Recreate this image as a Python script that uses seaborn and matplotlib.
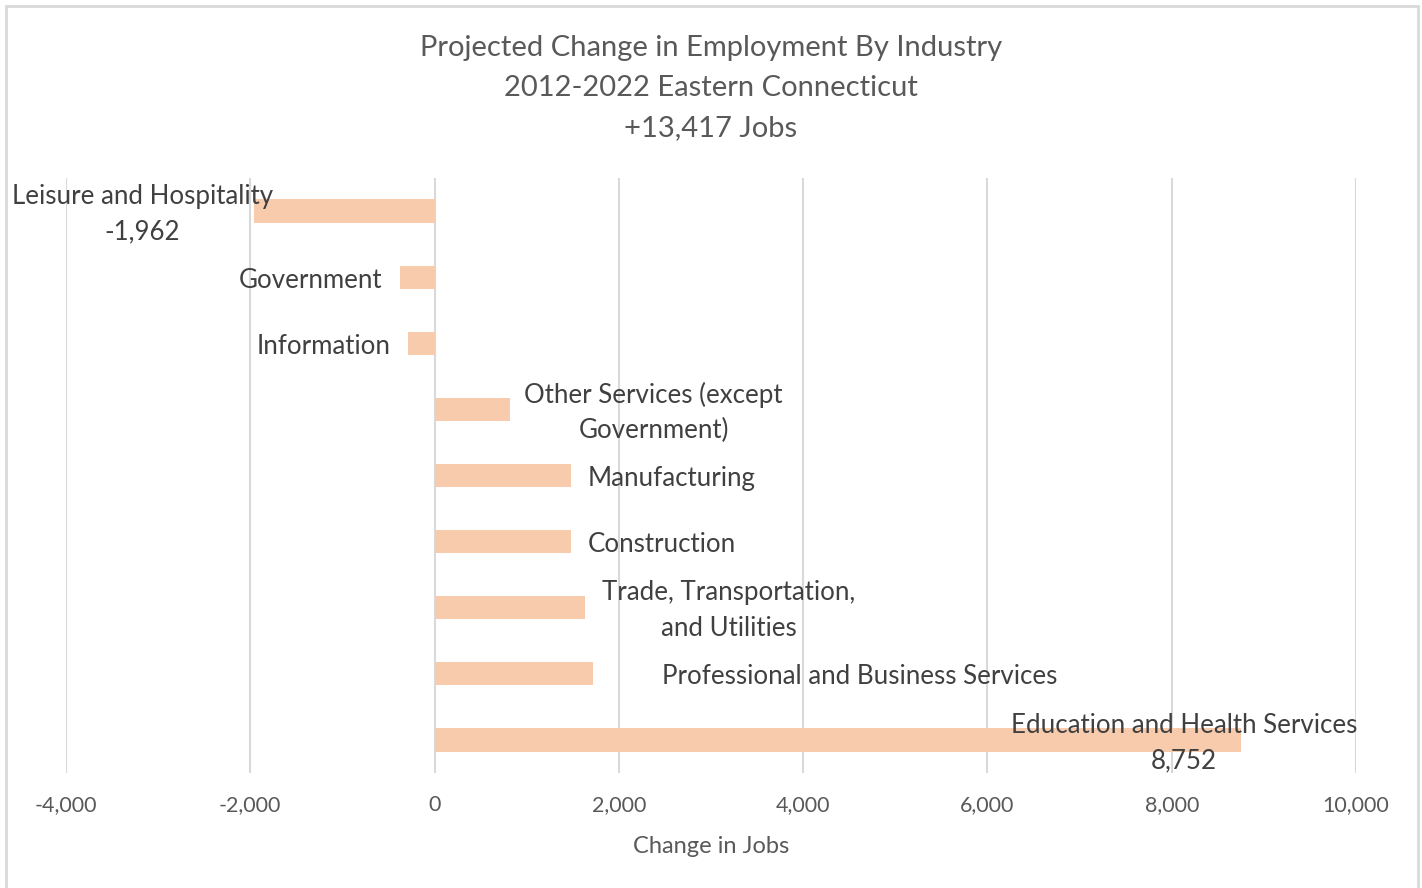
import matplotlib
matplotlib.use("Agg")
import matplotlib.pyplot as plt
import matplotlib.patches as mpatches
from matplotlib.ticker import FuncFormatter
import seaborn as sns
import pandas as pd

# ---- data ----
industries = [
    "Leisure and Hospitality",
    "Government",
    "Information",
    "Other Services (except Government)",
    "Manufacturing",
    "Construction",
    "Trade, Transportation, and Utilities",
    "Professional and Business Services",
    "Education and Health Services",
]
changes = [-1962, -380, -290, 818, 1485, 1485, 1637, 1723, 8752]
label_texts = [
    "Leisure and Hospitality\n-1,962",
    "Government",
    "Information",
    "Other Services (except\nGovernment)",
    "Manufacturing",
    "Construction",
    "Trade, Transportation,\nand Utilities",
    "Professional and Business Services",
    "Education and Health Services\n8,752",
]
title_text = "Projected Change in Employment By Industry\n2012-2022 Eastern Connecticut\n+13,417 Jobs"
x_label = "Change in Jobs"
x_ticks = [-4000, -2000, 0, 2000, 4000, 6000, 8000, 10000]

# ---- layout for labels (data-unit anchors, alignment) ----
label_x = [-3171, -565, -478, 2378, 1662, 1662, 3193, 2465, 8134]
label_ha = ["center", "right", "right", "center", "left", "left", "center", "left", "center"]
label_dy = 0.045

df = pd.DataFrame({"industry": industries, "change": changes})

sns.set_theme(style="white")
plt.rcParams["font.family"] = ["Lato", "DejaVu Sans"]

W, H = 1422, 888
fig = plt.figure(figsize=(W / 100, H / 100), dpi=100)
ax = fig.add_axes([66 / W, (H - 773) / H, (1356 - 66) / W, (773 - 178) / H])

sns.barplot(data=df, x="change", y="industry", orient="h", color="#F8CBAD",
            saturation=1, width=0.35, linewidth=0, ax=ax, zorder=3)

ax.set_xlim(-4000, 10000)
ax.set_ylim(len(industries) - 0.5, -0.5)
ax.set_xticks(x_ticks)
ax.xaxis.set_major_formatter(FuncFormatter(lambda v, p: f"{int(v):,}"))
ax.grid(axis="x", color="#D9D9D9", linewidth=1.5, zorder=0)
ax.grid(axis="y", visible=False)
ax.set_yticks([])
ax.set_ylabel("")
for s in ax.spines.values():
    s.set_visible(False)
ax.tick_params(axis="x", length=0, pad=16, labelsize=15.5, labelcolor="#595959")
ax.set_xlabel(x_label, fontsize=17, color="#595959", labelpad=15)

text_color = "#404040"
for i, (t, lx, ha) in enumerate(zip(label_texts, label_x, label_ha)):
    ax.text(lx, i + label_dy, t, ha=ha, va="center", multialignment="center",
            fontsize=18.6, color=text_color, zorder=4, linespacing=1.52)

fig.text(711 / W, 1 - 88 / H, title_text, ha="center", va="center",
         fontsize=21, color="#595959", linespacing=1.66)

# chart border
fig.patches.append(mpatches.Rectangle((6 / W, -2 / H), (1418 - 6) / W, (H - 6 + 2) / H,
                                      transform=fig.transFigure, fill=False,
                                      edgecolor="#D9D9D9", linewidth=2))

fig.savefig("out.png", dpi=100, facecolor="white")
